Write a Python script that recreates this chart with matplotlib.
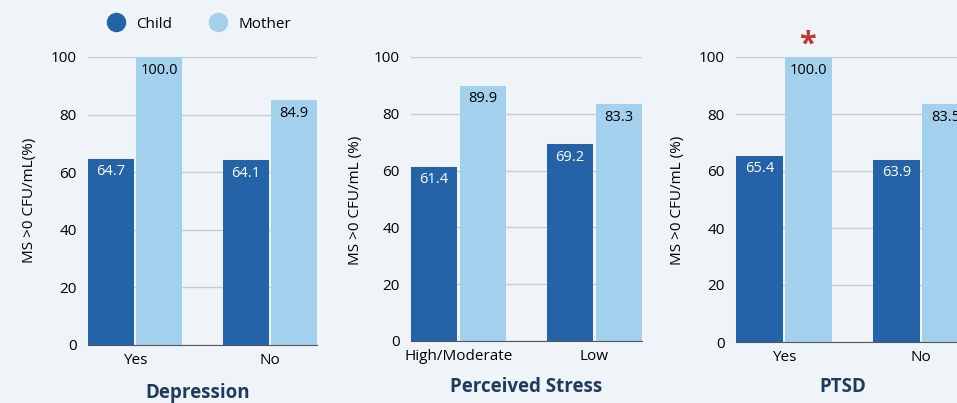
import numpy as np
import matplotlib.pyplot as plt
from matplotlib.lines import Line2D

# Data
panel_titles = ["Depression", "Perceived Stress", "PTSD"]
panel_cats = [["Yes", "No"], ["High/Moderate", "Low"], ["Yes", "No"]]
child_vals = [[64.7, 64.1], [61.4, 69.2], [65.4, 63.9]]
mother_vals = [[100.0, 84.9], [89.9, 83.3], [100.0, 83.5]]
ylabels = ["MS >0 CFU/mL(%)", "MS >0 CFU/mL (%)", "MS >0 CFU/mL (%)"]
yticks = [0, 20, 40, 60, 80, 100]

bg = "#eef4f8"
child_col = "#2563a8"
mother_col = "#a3d0ed"
title_col = "#1f3a5f"

plt.rcParams["font.family"] = ["Open Sans", "DejaVu Sans"]

fig = plt.figure(figsize=(9.57, 4.03), dpi=100, facecolor=bg)

# axes boxes in pixels: left, right, y of 0, y of 100
# (the third panel runs past the right edge, as in the reference)
boxes = [(88, 317, 345, 57), (411, 642, 341, 57), (736, 969, 342, 57)]
title_pos = [(198, 393), (526, 387), (843, 387)]
ylabel_x = [30, 355, 678]

W, H = 957, 403
bw = 0.34
gap = 0.01

for i in range(3):
    l, r, y0, y1 = boxes[i]
    ax = fig.add_axes([l / W, (H - y0) / H, (r - l) / W, (y0 - y1) / H])
    ax.set_facecolor(bg)
    x = np.arange(2)
    cb = ax.bar(x - bw / 2 - gap, child_vals[i], bw, color=child_col, zorder=3)
    mb = ax.bar(x + bw / 2 + gap, mother_vals[i], bw, color=mother_col, zorder=3)
    for b, v in zip(cb, child_vals[i]):
        ax.annotate(f"{v:.1f}", (b.get_x() + b.get_width() / 2, v), xytext=(0, -4),
                    textcoords="offset points", ha="center", va="top",
                    color="white", fontsize=10.5, zorder=4)
    for b, v in zip(mb, mother_vals[i]):
        ax.annotate(f"{v:.1f}", (b.get_x() + b.get_width() / 2, v), xytext=(0, -4),
                    textcoords="offset points", ha="center", va="top",
                    color="black", fontsize=10.5, zorder=4)
    ax.set_xlim(-0.35, 1.35)
    ax.set_ylim(0, 100)
    ax.set_yticks(yticks)
    ax.set_xticks(x)
    ax.set_xticklabels(panel_cats[i])
    ax.tick_params(length=0, labelsize=11, colors="black")
    ax.tick_params(axis="y", pad=8)
    ax.tick_params(axis="x", pad=6)
    ax.grid(axis="y", color="#c8ccd0", linewidth=1, zorder=0)
    for s in ["top", "right", "left"]:
        ax.spines[s].set_visible(False)
    ax.spines["bottom"].set_color("#555555")
    ax.spines["bottom"].set_zorder(5)
    fig.text(ylabel_x[i] / W, (H - 200) / H, ylabels[i], rotation=90,
             ha="center", va="center", fontsize=11)
    fig.text(title_pos[i][0] / W, (H - title_pos[i][1]) / H, panel_titles[i],
             ha="center", va="center", fontsize=13.5, fontweight="bold", color=title_col)

# significance marker on PTSD / Yes / Mother
fig.text(807 / W, (H - 45) / H, "*", ha="center", va="center",
         fontsize=22, color="#c0392b", fontweight="bold")

handles = [Line2D([], [], marker="o", linestyle="", markersize=13, color=child_col),
           Line2D([], [], marker="o", linestyle="", markersize=13, color=mother_col)]
fig.legend(handles, ["Child", "Mother"], loc="center", bbox_to_anchor=(196 / W, (H - 24) / H),
           ncol=2, frameon=False, fontsize=11, handletextpad=0.3, columnspacing=2.0)

fig.savefig("out.png", dpi=100, facecolor=bg)
